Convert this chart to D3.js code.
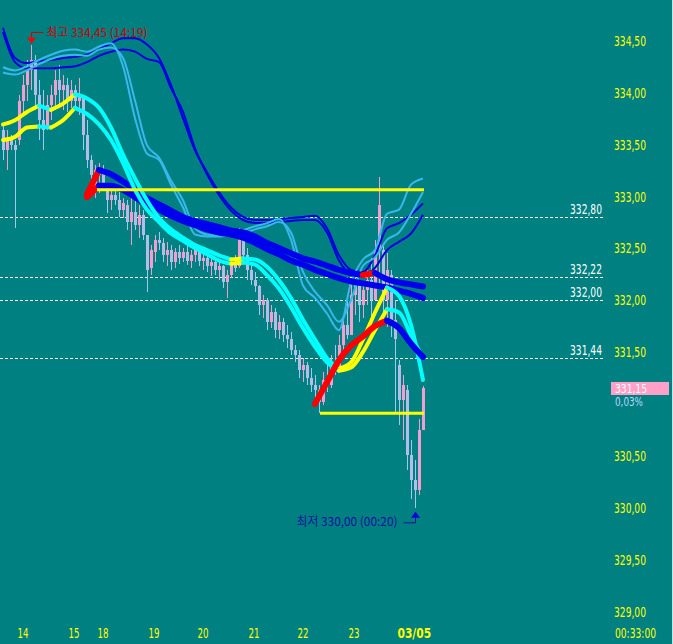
<!DOCTYPE html>
<html>
<head>
<meta charset="utf-8">
<script src="https://cdn.jsdelivr.net/npm/d3@7"></script>
<style>
  html, body { margin: 0; padding: 0; background: #008080; }
  svg { display: block; }
  text { font-family: 'Liberation Sans Narrow', 'DejaVu Sans Condensed', 'Liberation Sans', sans-serif; font-size: 14px; }
  .kr { font-family: 'Noto Sans CJK KR', 'Noto Sans', sans-serif; font-size: 12px; }
  .tag { font-size: 12px; }
</style>
</head>
<body>
<div id="chart"></div>
<script>
'use strict';

// candles, one per bar (bar 0 .. 105)
const candleOpen = [333.64, 333.44, 333.54, 333.49, 333.54, 333.92, 334.07, 334.21, 334.31, 333.97, 333.73, 333.66, 333.88, 333.97, 334.12, 334.02, 334.07, 333.92, 334.02, 333.92, 333.97, 333.59, 333.35, 333.06, 333.20, 333.25, 333.08, 332.96, 333.01, 332.96, 332.87, 332.91, 332.75, 332.85, 332.72, 332.82, 332.63, 332.31, 332.46, 332.58, 332.55, 332.43, 332.48, 332.37, 332.46, 332.40, 332.46, 332.38, 332.43, 332.48, 332.38, 332.40, 332.33, 332.37, 332.29, 332.33, 332.17, 332.24, 332.37, 332.33, 332.58, 332.43, 332.29, 332.19, 332.13, 331.95, 332.00, 331.79, 331.88, 331.71, 331.79, 331.66, 331.62, 331.52, 331.47, 331.33, 331.37, 331.25, 331.18, 331.13, 331.02, 331.23, 331.18, 331.40, 331.35, 331.57, 331.76, 331.66, 332.05, 332.14, 331.95, 332.10, 332.19, 332.00, 332.48, 332.48, 332.00, 332.24, 331.81, 331.37, 331.04, 331.13, 330.51, 330.27, 330.17, 330.75];
const candleHigh = [333.68, 333.64, 333.59, 333.54, 333.97, 334.17, 334.31, 334.45, 334.36, 334.12, 334.02, 333.97, 334.07, 334.21, 334.26, 334.17, 334.14, 334.12, 334.07, 334.14, 333.97, 333.73, 333.40, 333.30, 333.32, 333.30, 333.11, 333.08, 333.10, 333.04, 332.98, 332.96, 332.98, 332.96, 332.91, 332.87, 332.63, 332.53, 332.63, 332.65, 332.60, 332.56, 332.53, 332.50, 332.53, 332.50, 332.54, 332.48, 332.54, 332.52, 332.46, 332.48, 332.40, 332.38, 332.37, 332.34, 332.29, 332.40, 332.43, 332.69, 332.63, 332.50, 332.37, 332.27, 332.14, 332.05, 332.02, 331.95, 331.92, 331.86, 331.83, 331.76, 331.69, 331.57, 331.52, 331.44, 331.40, 331.35, 331.28, 331.18, 331.31, 331.37, 331.47, 331.57, 331.66, 331.86, 332.00, 332.14, 332.29, 332.19, 332.17, 332.29, 332.40, 332.58, 333.18, 332.55, 332.45, 332.29, 332.00, 331.42, 331.28, 331.18, 330.65, 330.46, 330.85, 331.17];
const candleLow = [333.35, 333.25, 333.44, 332.69, 333.49, 333.78, 333.92, 334.02, 333.83, 333.54, 333.44, 333.64, 333.73, 333.83, 333.88, 333.83, 333.81, 333.85, 333.83, 333.78, 333.44, 333.27, 333.14, 332.98, 333.03, 333.06, 332.84, 332.87, 332.91, 332.80, 332.79, 332.67, 332.53, 332.67, 332.60, 332.58, 332.08, 332.24, 332.37, 332.48, 332.37, 332.33, 332.29, 332.31, 332.35, 332.37, 332.34, 332.31, 332.37, 332.33, 332.29, 332.27, 332.23, 332.24, 332.19, 332.12, 332.02, 332.21, 332.27, 332.31, 332.37, 332.19, 332.14, 332.08, 331.86, 331.83, 331.71, 331.73, 331.63, 331.62, 331.60, 331.54, 331.47, 331.40, 331.25, 331.21, 331.18, 331.11, 331.06, 330.91, 330.99, 331.11, 331.15, 331.28, 331.33, 331.50, 331.62, 331.66, 331.86, 331.79, 331.83, 331.95, 331.83, 332.00, 332.16, 331.79, 331.74, 331.64, 330.91, 330.80, 330.65, 330.36, 330.08, 330.00, 330.12, 330.75];
const candleClose = [333.44, 333.54, 333.49, 333.44, 333.92, 334.07, 334.21, 334.31, 333.97, 333.73, 333.64, 333.88, 333.97, 334.12, 334.02, 334.07, 333.92, 334.02, 333.92, 333.97, 333.59, 333.35, 333.20, 333.25, 333.27, 333.11, 332.96, 333.01, 332.96, 332.87, 332.93, 332.75, 332.85, 332.72, 332.82, 332.63, 332.29, 332.48, 332.58, 332.55, 332.43, 332.48, 332.37, 332.46, 332.40, 332.46, 332.38, 332.43, 332.48, 332.38, 332.40, 332.33, 332.37, 332.29, 332.33, 332.17, 332.24, 332.37, 332.31, 332.58, 332.43, 332.29, 332.19, 332.13, 331.95, 332.00, 331.79, 331.88, 331.71, 331.79, 331.66, 331.62, 331.52, 331.47, 331.33, 331.37, 331.25, 331.18, 331.13, 331.02, 331.23, 331.18, 331.40, 331.35, 331.57, 331.76, 331.66, 332.05, 332.14, 331.95, 332.10, 332.19, 332.00, 332.48, 332.91, 332.00, 332.29, 331.81, 331.62, 331.04, 331.18, 330.51, 330.27, 330.17, 330.75, 331.15];

// indicator lines, one value every 3 bars (bar 0, 3, ... 105); null = not drawn
const lineBars = d3.range(0, 106, 3);
const darkBlueA = [334.62, 334.33, 334.28, 334.30, 334.31, 334.33, 334.34, 334.36, 334.41, 334.47, 334.52, 334.52, 334.46, 334.33, 334.07, 333.75, 333.44, 333.23, 333.04, 332.89, 332.80, 332.77, 332.77, 332.78, 332.79, 332.80, 332.81, 332.69, 332.43, 332.29, 332.27, 332.43, 332.69, 332.74, 332.82, 332.93];
const darkBlueB = [334.58, 334.29, 334.23, 334.23, 334.23, 334.24, 334.25, 334.29, 334.35, 334.39, 334.41, 334.39, 334.32, 334.29, 334.04, 333.81, 333.46, 333.21, 333.01, 332.86, 332.77, 332.74, 332.74, 332.75, 332.76, 332.77, 332.77, 332.65, 332.38, 332.25, 332.23, 332.31, 332.48, 332.56, 332.64, 332.82];
const skyA = [334.24, 334.21, 334.25, 334.31, 334.36, 334.40, 334.41, 334.39, 334.44, 334.47, 334.25, 333.75, 333.41, 333.35, 333.11, 332.89, 332.63, 332.61, 332.61, 332.63, 332.67, 332.71, 332.74, 332.78, 332.58, 332.14, 332.02, 331.87, 331.71, 332.17, 332.39, 332.48, 332.83, 332.87, 333.11, 333.17];
const skyB = [334.19, 334.17, 334.21, 334.27, 334.32, 334.35, 334.36, 334.35, 334.41, 334.43, 334.33, 333.92, 333.49, 333.37, 333.15, 332.96, 332.69, 332.63, 332.62, 332.62, 332.64, 332.68, 332.71, 332.75, 332.65, 332.27, 332.08, 331.95, 331.79, 332.00, 332.33, 332.41, 332.58, 332.65, 332.83, 333.04];
const maLongA = [null, null, null, null, null, null, null, 333.02, 333.25, 333.21, 333.14, 333.06, 332.98, 332.92, 332.86, 332.80, 332.76, 332.73, 332.70, 332.67, 332.65, 332.61, 332.55, 332.50, 332.45, 332.40, 332.37, 332.33, 332.29, 332.26, 332.24, 332.26, 332.20, 332.17, 332.15, 332.13];
const maLongB = [null, null, null, null, null, null, null, 332.99, 333.10, 333.10, 333.06, 332.99, 332.92, 332.87, 332.81, 332.76, 332.72, 332.68, 332.65, 332.63, 332.60, 332.55, 332.49, 332.44, 332.38, 332.34, 332.29, 332.25, 332.21, 332.18, 332.16, 332.14, 332.12, 332.09, 332.06, 332.02];
const maMidA = [333.69, 333.73, 333.81, 333.87, 333.83, 333.89, 333.98, 333.94, 333.85, 333.66, 333.40, 333.17, 332.96, 332.79, 332.68, 332.60, 332.53, 332.48, 332.43, 332.39, 332.40, 332.39, 332.32, 332.19, 332.02, 331.81, 331.62, 331.44, 331.34, 331.40, 331.62, 331.88, 332.12, 332.04, 331.76, 331.23];
const maMidB = [333.54, 333.57, 333.66, 333.67, 333.66, 333.73, 333.85, 333.79, 333.69, 333.54, 333.32, 333.06, 332.87, 332.75, 332.64, 332.57, 332.50, 332.44, 332.38, 332.35, 332.36, 332.34, 332.24, 332.11, 331.93, 331.73, 331.55, 331.40, 331.32, 331.35, 331.50, 331.71, 331.91, 331.88, 331.66, 331.44];
const maShort = [null, null, null, null, null, null, null, null, null, null, null, null, null, null, null, null, null, null, null, null, null, null, null, null, null, null, 331.00, 331.21, 331.42, 331.56, 331.65, 331.75, 331.80, 331.73, 331.58, 331.45];

// solid yellow levels (value, first bar)
const levelValues = [333.06, 330.91];
const levelFrom = [23.5, 79.25];

// dashed reference lines
const refValues = [332.80, 332.22, 332.00, 331.44];
const refLabels = ['332,80', '332,22', '332,00', '331,44'];

// axes (331,00 sits under the change readout)
const yTicks = [334.5, 334, 333.5, 333, 332.5, 332, 331.5, 330.5, 330, 329.5, 329];
const dayLabels = ['14', '15', '18', '19', '20', '21', '22', '23', '03/05'];
const dayBars = [3.5, 16.25, 23.5, 36.25, 48.5, 61.25, 73.5, 86.25, 98.5];

// markers
const highBar = 7, highValue = 334.45, highText = '최고 334,45 (14:19)';
const lowBar = 103, lowValue = 330.00, lowText = '최저 330,00 (00:20)';
const lastValue = 331.15, lastLabel = '331,15', lastChange = '0,03%';
const clockText = '00:33:00';

const width = 673, height = 644;

const svg = d3.select('#chart')
  .append('svg')
  .attr('width', width)
  .attr('height', height);

svg.append('rect')
  .attr('width', width)
  .attr('height', height)
  .attr('fill', '#008080');

const x = d3.scaleLinear().domain([0, 105]).range([3, 423]);
const y = d3.scaleLinear().domain([329, 334.5]).range([611.7, 40.25]);

const fmt = v => d3.format('.2f')(v).replace('.', ',');

// bitmap-like narrow text: force a width per character
const charW = ch => /[0-9]/.test(ch) ? 6 : /[,.:]/.test(ch) ? 3 : ch === ' ' ? 4
  : /[()]/.test(ch) ? 4 : ch === '/' ? 5 : ch === '%' ? 8 : 13;
const textW = s => d3.sum(Array.from(s), charW) - 1;
function fit(sel) {
  sel.each(function () {
    d3.select(this)
      .attr('textLength', textW(this.textContent))
      .attr('lengthAdjust', 'spacingAndGlyphs');
  });
}

// dashed reference lines
svg.append('g')
  .selectAll('line')
  .data(refValues)
  .enter()
  .append('line')
  .attr('x1', 0)
  .attr('x2', 603)
  .attr('y1', d => Math.round(y(d)) + 0.5)
  .attr('y2', d => Math.round(y(d)) + 0.5)
  .attr('stroke', '#ffffff')
  .attr('stroke-dasharray', '3,2')
  .attr('shape-rendering', 'crispEdges');

svg.append('g')
  .selectAll('text')
  .data(refValues)
  .enter()
  .append('text')
  .attr('x', 602)
  .attr('y', d => y(d) - 8)
  .attr('dy', '0.35em')
  .attr('text-anchor', 'end')
  .attr('fill', '#ffffff')
  .text((d, i) => refLabels[i])
  .call(fit);

// candles
const bars = d3.range(candleOpen.length);
const up = i => candleClose[i] >= candleOpen[i];
const candleG = svg.append('g').attr('shape-rendering', 'crispEdges');

candleG.selectAll('line')
  .data(bars)
  .enter()
  .append('line')
  .attr('x1', i => Math.round(x(i)) + 0.5)
  .attr('x2', i => Math.round(x(i)) + 0.5)
  .attr('y1', i => y(candleHigh[i]))
  .attr('y2', i => y(candleLow[i]))
  .attr('stroke', i => up(i) ? '#f0a0d0' : '#a0c8f0');

candleG.selectAll('rect')
  .data(bars)
  .enter()
  .append('rect')
  .attr('x', i => Math.round(x(i)) - 1)
  .attr('width', 3)
  .attr('y', i => y(Math.max(candleOpen[i], candleClose[i])))
  .attr('height', i => Math.max(1, Math.abs(y(candleOpen[i]) - y(candleClose[i]))))
  .attr('fill', i => up(i) ? '#f0a0d0' : '#b4bce8');

// indicator lines
const points = vals => lineBars.map((b, k) => [b, vals[k]]).filter(p => p[1] != null);
const lineGen = d3.line()
  .x(p => x(p[0]))
  .y(p => y(p[1]))
  .curve(d3.curveMonotoneX);

function plainLine(vals, color, w) {
  svg.append('path')
    .datum(points(vals))
    .attr('d', lineGen)
    .attr('fill', 'none')
    .attr('stroke', color)
    .attr('stroke-width', w)
    .attr('stroke-linejoin', 'round');
}

// colour each stretch by direction: rising / falling
function slopeLine(vals, upColor, downColor, w) {
  const p = points(vals);
  const runs = [];
  for (let i = 1; i < p.length; i++) {
    const c = p[i][1] > p[i - 1][1] ? upColor : downColor;
    const last = runs[runs.length - 1];
    if (last && last.color === c) last.pts.push(p[i]);
    else runs.push({ color: c, pts: [p[i - 1], p[i]] });
  }
  svg.append('g')
    .selectAll('path')
    .data(runs)
    .enter()
    .append('path')
    .attr('d', r => lineGen(r.pts))
    .attr('fill', 'none')
    .attr('stroke', r => r.color)
    .attr('stroke-width', w)
    .attr('stroke-linecap', 'round')
    .attr('stroke-linejoin', 'round');
}

plainLine(darkBlueA, '#0000e0', 2);
plainLine(darkBlueB, '#0000e0', 2);
plainLine(skyA, '#38b8ec', 2);
plainLine(skyB, '#38b8ec', 2);
slopeLine(maLongA, '#ff0000', '#0000ee', 6);
slopeLine(maLongB, '#ff0000', '#0000ee', 6);
slopeLine(maMidA, '#ffff00', '#00ffff', 4);
slopeLine(maMidB, '#ffff00', '#00ffff', 4);
slopeLine(maShort, '#ff0000', '#0000ee', 6);

// solid yellow levels
svg.append('g')
  .selectAll('line')
  .data(levelValues)
  .enter()
  .append('line')
  .attr('x1', (d, i) => x(levelFrom[i]))
  .attr('x2', x(105) + 1)
  .attr('y1', d => y(d))
  .attr('y2', d => y(d))
  .attr('stroke', '#ffff00')
  .attr('stroke-width', 3);

// right price axis
const yAxis = svg.append('g')
  .attr('transform', 'translate(614,0)')
  .call(d3.axisRight(y).tickValues(yTicks).tickSize(0).tickPadding(0).tickFormat(fmt));
yAxis.select('.domain').remove();
yAxis.selectAll('text')
  .attr('fill', '#ffff00')
  .attr('dy', '0.35em')
  .style('font-size', '14px')
  .style('font-family', null)
  .call(fit);

// date axis
const xAxis = svg.append('g')
  .attr('transform', 'translate(0,633)')
  .call(d3.axisBottom(x).tickValues(dayBars).tickSize(0).tickFormat((d, i) => dayLabels[i]));
xAxis.select('.domain').remove();
xAxis.selectAll('text')
  .attr('y', 0)
  .attr('dy', '0.35em')
  .attr('text-anchor', 'start')
  .attr('fill', '#ffff00')
  .style('font-size', '14px')
  .style('font-family', null)
  .style('font-weight', (d, i) => i === dayLabels.length - 1 ? 'bold' : null)
  .each(function (d, i) {
    d3.select(this)
      .attr('textLength', textW(this.textContent) * (i === dayLabels.length - 1 ? 1.2 : 1))
      .attr('lengthAdjust', 'spacingAndGlyphs');
  });

svg.append('text')
  .attr('x', 615)
  .attr('y', 633)
  .attr('dy', '0.35em')
  .attr('fill', '#ffff00')
  .text(clockText)
  .call(fit);

// last price tag and change readout
const lastY = y(lastValue);
svg.append('rect')
  .attr('x', 611)
  .attr('y', Math.round(lastY) - 6)
  .attr('width', 58)
  .attr('height', 13)
  .attr('fill', '#ffa0c8');
svg.append('text')
  .attr('class', 'tag')
  .attr('x', 615)
  .attr('y', lastY + 0.5)
  .attr('dy', '0.35em')
  .attr('fill', '#ffffff')
  .text(lastLabel)
  .call(fit);
svg.append('text')
  .attr('class', 'tag')
  .attr('x', 615)
  .attr('y', lastY + 13.5)
  .attr('dy', '0.35em')
  .attr('fill', '#b8d8ff')
  .text(lastChange)
  .call(fit);

// high marker
const hx = Math.round(x(highBar)) + 0.5, hy = y(highValue);
svg.append('path')
  .attr('d', `M${hx + 12},${hy - 13}H${hx}V${hy - 8}`)
  .attr('fill', 'none')
  .attr('stroke', '#d00000');
svg.append('path')
  .attr('d', `M${hx - 4.5},${hy - 8}L${hx + 4.5},${hy - 8}L${hx},${hy - 2}Z`)
  .attr('fill', '#ff0000');
svg.append('text')
  .attr('class', 'kr')
  .attr('x', hx + 15)
  .attr('y', hy - 13)
  .attr('dy', '0.35em')
  .attr('fill', '#d00000')
  .text(highText)
  .call(fit);

// low marker
const lx = Math.round(x(lowBar)) + 0.5, ly = y(lowValue);
svg.append('path')
  .attr('d', `M${lx - 12},${ly + 15}H${lx}V${ly + 10}`)
  .attr('fill', 'none')
  .attr('stroke', '#1010a0');
svg.append('path')
  .attr('d', `M${lx - 4.5},${ly + 10}L${lx + 4.5},${ly + 10}L${lx},${ly + 4}Z`)
  .attr('fill', '#0000e0');
svg.append('text')
  .attr('class', 'kr')
  .attr('x', lx - 18)
  .attr('y', ly + 14)
  .attr('dy', '0.35em')
  .attr('text-anchor', 'end')
  .attr('fill', '#1010a0')
  .text(lowText)
  .call(fit);

// right edge
svg.append('line')
  .attr('x1', 672.5)
  .attr('x2', 672.5)
  .attr('y1', 0)
  .attr('y2', height)
  .attr('stroke', '#c0e8e8');
</script>
</body>
</html>
